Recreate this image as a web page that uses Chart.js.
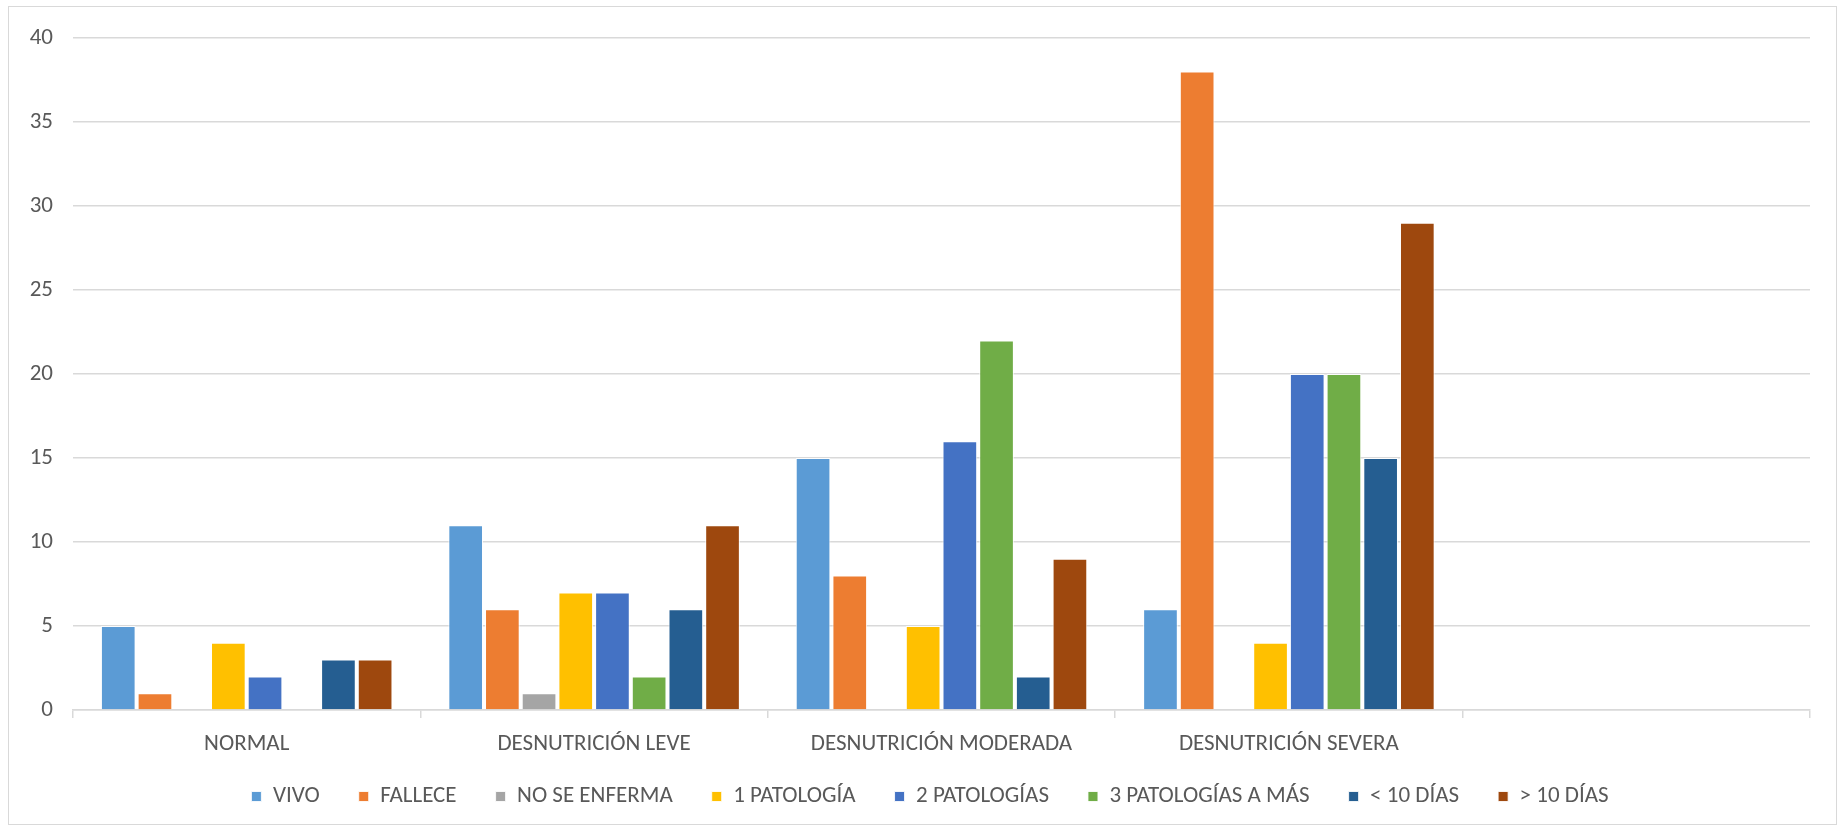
<!DOCTYPE html>
<html>
<head>
<meta charset="utf-8">
<script src="https://cdn.jsdelivr.net/npm/chart.js@4"></script>
<style>
  body { margin: 0; background: #fff; }
  #wrap {
    position: absolute; left: 8px; top: 6px;
    width: 1827px; height: 817px;
    border: 1px solid #d9d9d9;
  }
</style>
</head>
<body>
<div id="wrap"><canvas id="chart"></canvas></div>
<script>
// categorías del eje X (la última está vacía en el original)
const categories = ['NORMAL', 'DESNUTRICIÓN LEVE', 'DESNUTRICIÓN MODERADA', 'DESNUTRICIÓN SEVERA', ''];

const seriesNames = ['VIVO', 'FALLECE', 'NO SE ENFERMA', '1 PATOLOGÍA', '2 PATOLOGÍAS',
  '3 PATOLOGÍAS A MÁS', '< 10 DÍAS', '> 10 DÍAS'];

// valores por serie
const vivo = [5, 11, 15, 6, null];
const fallece = [1, 6, 8, 38, null];
const noSeEnferma = [0, 1, 0, 0, null];
const unaPatologia = [4, 7, 5, 4, null];
const dosPatologias = [2, 7, 16, 20, null];
const tresPatologias = [0, 2, 22, 20, null];
const menos10Dias = [3, 6, 2, 15, null];
const mas10Dias = [3, 11, 9, 29, null];

const yTicks = [0, 5, 10, 15, 20, 25, 30, 35, 40];

const colors = ['#5B9BD5', '#ED7D31', '#A5A5A5', '#FFC000', '#4472C4', '#70AD47', '#255E91', '#9E480E'];
const seriesData = [vivo, fallece, noSeEnferma, unaPatologia, dosPatologias, tresPatologias, menos10Dias, mas10Dias];

const font = "Carlito, Lato, sans-serif";
const textColor = '#595959';
const fontSize = 23;

const datasets = seriesNames.map((name, i) => ({
  label: name,
  data: seriesData[i],
  backgroundColor: colors[i],
  borderColor: 'rgba(255,255,255,0.85)',
  borderWidth: 1,
  categoryPercentage: 0.845,
  barPercentage: 0.945
}));

// no recortar las etiquetas de los ejes a su propia caja
const noClip = (scale) => { scale._computeLabelArea = () => undefined; };

new Chart(document.getElementById('chart').getContext('2d'), {
  type: 'bar',
  data: { labels: categories, datasets: datasets },
  options: {
    responsive: true,
    maintainAspectRatio: false,
    animation: false,
    layout: { padding: { top: 31, right: 26, bottom: 18, left: 41 } },
    scales: {
      y: {
        min: 0,
        max: 40,
        afterBuildTicks: (scale) => { scale.ticks = yTicks.map(v => ({ value: v })); },
        afterFit: (scale) => {
          scale.width = 23;
          scale.paddingTop = 0;
          scale.paddingBottom = 0;
          noClip(scale);
        },
        border: { display: false },
        grid: { color: '#d9d9d9', lineWidth: 1.5, drawTicks: false },
        ticks: { color: textColor, padding: 20, font: { family: font, size: fontSize } }
      },
      x: {
        afterFit: (scale) => { scale.height = 36; noClip(scale); },
        border: { display: true, color: '#d9d9d9', width: 1.5 },
        grid: { display: true, drawOnChartArea: false, drawTicks: true, tickLength: 8, color: '#d9d9d9', lineWidth: 1.5 },
        ticks: { color: textColor, padding: 12, font: { family: font, size: fontSize } }
      }
    },
    plugins: {
      legend: {
        position: 'bottom',
        maxHeight: 60,
        labels: {
          color: textColor,
          boxWidth: 10,
          boxHeight: 10,
          padding: 39,
          font: { family: font, size: fontSize }
        }
      },
      tooltip: { enabled: false }
    }
  }
});
</script>
</body>
</html>
